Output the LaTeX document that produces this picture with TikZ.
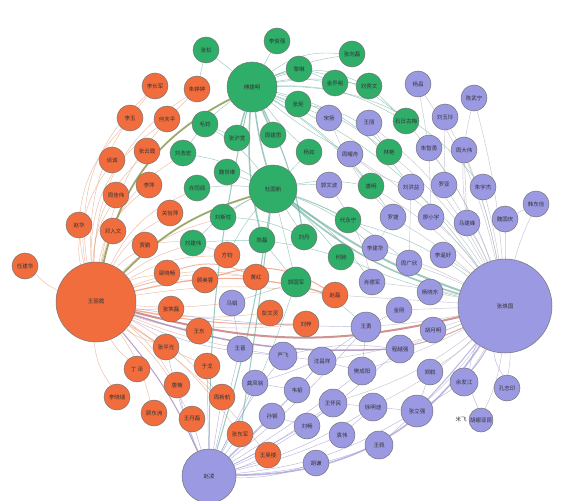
\documentclass[tikz,border=0pt]{standalone}
\usepackage{fontspec}
\newfontfamily\cjk{Noto Sans CJK SC}
\usetikzlibrary{backgrounds}
\definecolor{orgc}{HTML}{F26D3D}
\definecolor{grnc}{HTML}{2EAE68}
\definecolor{prpc}{HTML}{9C99E3}
\definecolor{eorg}{HTML}{E8A080}
\definecolor{egrn}{HTML}{5AA896}
\definecolor{eprp}{HTML}{A3A0D8}
\definecolor{egry}{HTML}{B4B4C4}
\definecolor{olv}{HTML}{8C9A50}
\definecolor{red2}{HTML}{C98080}
\definecolor{mauve}{HTML}{A585B5}
\begin{document}
\begin{tikzpicture}[x=1pt,y=-1pt,
  nd/.style={circle,draw=black!55,line width=0.5pt,inner sep=0pt,text=black!80,font=\cjk\fontsize{5.5}{6}\selectfont},
  orn/.style={nd,fill=orgc,minimum size=#1}, orn/.default=26,
  grn/.style={nd,fill=grnc,minimum size=#1}, grn/.default=26,
  prn/.style={nd,fill=prpc,minimum size=#1}, prn/.default=26,
  eo/.style={draw=eorg,line width=0.45pt,opacity=0.7},
  eg/.style={draw=egrn,line width=0.45pt,opacity=0.6},
  ep/.style={draw=eprp,line width=0.45pt,opacity=0.75},
  ex/.style={draw=egry,line width=0.45pt,opacity=0.75},
  thk/.style={line width=#1}, thk/.default=1.6pt]
\useasboundingbox (0,0) rectangle (564,500);
% ---------- orange ----------
\node[orn=80] (W) at (96,302) {王丽霞};
\node[orn] (o1) at (25,266) {任建华};
\node[orn] (o2) at (79,225) {赵华};
\node[orn] (o3) at (113,231) {邓入文};
\node[orn] (o4) at (145,245) {贾鹏};
\node[orn] (o5) at (167,273) {梁晓畅};
\node[orn] (o6) at (171,309) {张笑磊};
\node[orn] (o7) at (166,347) {张平光};
\node[orn] (o8) at (137,369) {丁\ 泽};
\node[orn] (o9) at (117,397) {李晓瑞};
\node[orn] (o10) at (154,413) {顾东洲};
\node[orn] (o11) at (177,385) {唐楠};
\node[orn] (o12) at (192,419) {王丹磊};
\node[orn] (o13) at (222,397) {周新航};
\node[orn] (o14) at (207,366) {于戈};
\node[orn] (o15) at (199,331) {王东};
\node[orn] (o16) at (205,280) {顾美蓉};
\node[orn] (o17) at (227,255) {方钧};
\node[orn] (o18) at (256,277) {黄红};
\node[orn] (o19) at (170,213) {关怡萍};
\node[orn] (o20) at (149,185) {李萍};
\node[orn] (o21) at (116,195) {周佳伟};
\node[orn] (o22) at (112,160) {谈诚};
\node[orn] (o23) at (130,118) {李玉};
\node[orn] (o24) at (155,86) {李长军};
\node[orn] (o25) at (147,151) {张云霞};
\node[orn] (o26) at (167,119) {何夫平};
\node[orn] (o27) at (197,89) {朱婷婷};
\node[orn] (o28) at (270,313) {彭文灵};
\node[orn] (o29) at (306,324) {刘梓};
\node[orn] (o30) at (335,295) {赵磊};
\node[orn] (o31) at (240,434) {张东军};
\node[orn] (o32) at (268,455) {王昊楼};
% ---------- green ----------
\node[grn=50] (F) at (252,87) {傅建明};
\node[grn=48] (D) at (273,189) {杜国新};
\node[grn] (g1) at (206,50) {张松};
\node[grn] (g2) at (277,41) {李俊强};
\node[grn] (g3) at (352,54) {张向磊};
\node[grn] (g4) at (299,69) {黎琳};
\node[grn] (g5) at (335,83) {金乔裕};
\node[grn] (g6) at (369,86) {刘秀文};
\node[grn] (g7) at (298,104) {张炬};
\node[grn] (g8) at (205,124) {毛钧};
\node[grn] (g9) at (237,138) {张沪宽};
\node[grn] (g10) at (273,135) {周建思};
\node[grn] (g11) at (309,152) {杨如};
\node[grn] (g12) at (183,153) {刘浩宏};
\node[grn] (g13) at (227,172) {魏世维};
\node[grn] (g14) at (197,188) {许同闻};
\node[grn] (g15) at (223,217) {刘斯柱};
\node[grn] (g16) at (262,240) {陈磊};
\node[grn] (g17) at (193,243) {刘建伟};
\node[grn] (g18) at (304,237) {刘丹};
\node[grn] (g19) at (348,220) {代永宁};
\node[grn] (g20) at (341,257) {何驰};
\node[grn=30] (g21) at (296,282) {郭国军};
\node[grn] (g22) at (371,186) {唐明};
\node[grn] (g23) at (389,152) {林艳};
\node[grn] (g24) at (406,121) {石日古梅};
% ---------- purple ----------
\node[prn=94] (Z) at (505,306) {张焕国};
\node[prn=54] (Y) at (209,476) {赵凌};
\node[prn] (p1) at (329,118) {宋扬};
\node[prn] (p2) at (369,123) {王丽};
\node[prn] (p3) at (350,154) {周耀舟};
\node[prn] (p4) at (329,185) {郭文波};
\node[prn] (p5) at (418,84) {杨昌};
\node[prn] (p6) at (474,98) {陈武宁};
\node[prn] (p7) at (445,117) {刘玉玲};
\node[prn] (p8) at (429,148) {朱智勇};
\node[prn] (p9) at (464,150) {周大伟};
\node[prn] (p10) at (411,187) {刘洪益};
\node[prn] (p11) at (444,185) {罗亚};
\node[prn] (p12) at (483,187) {朱宇杰};
\node[prn] (p13) at (536,204) {韩东信};
\node[prn] (p14) at (393,217) {罗捷};
\node[prn] (p15) at (431,217) {廖小宇};
\node[prn] (p16) at (467,223) {马建峰};
\node[prn] (p17) at (505,219) {魏国庆};
\node[prn] (p18) at (375,248) {李建华};
\node[prn] (p19) at (409,263) {周广欣};
\node[prn] (p20) at (443,255) {李遥好};
\node[prn] (p21) at (372,282) {肖德军};
\node[prn] (p22) at (430,292) {杨晓东};
\node[prn] (p23) at (399,310) {金刚};
\node[prn] (p24) at (433,330) {胡月明};
\node[prn=28] (p25) at (400,349) {程越强};
\node[prn=30] (p26) at (366,327) {王勇};
\node[prn] (p27) at (232,303) {马娟};
\node[prn] (p28) at (240,349) {王晋};
\node[prn=28] (p29) at (283,356) {严飞};
\node[prn=28] (p30) at (322,361) {沈昌祥};
\node[prn=28] (p31) at (362,371) {樊成阳};
\node[prn] (p32) at (255,383) {龚凤铭};
\node[prn] (p33) at (297,390) {韦韬};
\node[prn=28] (p34) at (333,403) {王怀民};
\node[prn=28] (p35) at (373,407) {徐明迪};
\node[prn=32] (p36) at (417,411) {张立强};
\node[prn] (p37) at (272,416) {孙钢};
\node[prn] (p38) at (307,426) {刘畅};
\node[prn] (p39) at (342,435) {袁伟};
\node[prn=28] (p40) at (379,445) {王佩};
\node[prn] (p41) at (316,463) {胡谦};
\node[prn] (p42) at (430,372) {郑鹤};
\node[prn=28] (p43) at (464,382) {余发江};
\node[prn] (p44) at (507,388) {孔志印};
\node[prn=24] (p45) at (481,420) {胡娜亚昆};
\node[font=\cjk\fontsize{5.5}{6}\selectfont,text=black!80] (mf) at (461,419) {米飞};
% ---------- edges ----------
\begin{scope}[on background layer]
\fill[white] (0,0) rectangle (564,500);
% W hub
\foreach \t/\b in {o1/-10,o2/-10,o3/-5,o4/-10,o5/-10,o6/5,o7/10,o8/10,o9/15,o10/-10,o11/-10,o12/-10,o13/-10,o14/5,o15/5,o16/-10,o17/-15,o18/-15,o19/-15,o20/-20,o21/-15,o22/-22,o23/-28,o24/-28,o25/-22,o26/-28,o27/-28,o28/8,o29/10,o31/-10,o32/-8,g17/-10,g15/-15,g14/-20,g12/-22,p27/5,p28/5}
  \draw[eo] (W) to[bend right=\b] (\t);
\draw[eo] (W) to[bend left=22] (o24);
\draw[eo] (W) to[bend left=18] (o27);
\draw[eo] (W) to[bend left=12] (o18);
\draw[eo] (W) to[bend left=8] (o30);
\draw[eo,thk=1.2pt,draw=orgc!80] (W) to[bend left=14] (o30);
\draw[eo,thk=1pt,draw=orgc!80] (W) to[bend right=6] (o29);
\draw[eo,thk=1pt] (o5) to[bend left=20] (o18);
\draw[eo,thk=1pt,draw=orgc!80] (o16) to[bend left=25] (o30);
\draw[eo] (o4) to[bend left=15] (o17);
\draw[olv,thk=1.8pt,opacity=0.85] (W) to[bend left=25] (F);
\draw[olv,thk=1.8pt,opacity=0.85] (W) to[bend left=14] (D);
\draw[red2,thk=2pt,opacity=0.85] (W) to[bend right=14] (Z);
\draw[mauve,thk=1.5pt,opacity=0.8] (W) to[bend right=10] (p25);
\draw[mauve,thk=1pt,opacity=0.8] (W) to[bend left=8] (Y);
\draw[ep] (W) to[bend right=4] (p26);
\draw[ep] (W) to[bend right=10] (p29);
% F hub
\foreach \t/\b in {g1/0,g2/0,g3/-20,g4/-5,g5/-10,g6/-10,g7/0,g11/5,g23/-10,g24/-15,g22/-8,g12/10,p1/0,p3/5,g5/-25,g6/-22,g3/-8}
  \draw[eg] (F) to[bend right=\b] (\t);
\draw[eg,thk=1.5pt] (F) to (g9);
\draw[eg,thk=1.5pt] (F) to (g10);
\draw[eg,thk=1.5pt] (F) to[bend right=4] (D);
\draw[eg,thk=1.5pt] (F) to[bend right=8] (g16);
\draw[eg,thk=1.2pt] (F) to[bend left=8] (g18);
\draw[eg] (F) to[bend left=15] (Z);
\draw[eg] (F) to[bend left=25] (p12);
\draw[eg] (F) to[bend left=20] (p10);
\draw[eg] (F) to[bend left=12] (p14);
\draw[eg,thk=1pt] (F) to[bend right=6] (Y);
\draw[eg] (g8) to (g9);
\draw[eg] (g1) to (o27);
% D hub
\foreach \t/\b in {g13/0,g14/5,g15/5,g17/10,g18/0,g19/-5,g20/-5,g22/-10,p4/-5,p18/-10,g12/10,g8/10,o17/5,g21/0,p19/-10,p21/-10,g11/0}
  \draw[eg] (D) to[bend right=\b] (\t);
\draw[eg,thk=2pt] (D) to[bend right=8] (Z);
\draw[eg,thk=1.6pt] (D) to[bend right=12] (Z);
\draw[eg,thk=1pt] (D) to[bend left=4] (Y);
\draw[eg,thk=1pt] (D) to[bend left=1] (o31);
\draw[eg] (g15) to[bend left=10] (g18);
\draw[eg] (g17) to[bend left=10] (g20);
\draw[eg] (g16) to (g21);
\draw[eg] (g21) to[bend left=10] (p26);
\draw[eg] (g21) to (p27);
\draw[eg] (g21) to[bend left=5] (Y);
\draw[eg] (g19) to[bend left=10] (Z);
\draw[eg] (g20) to[bend right=5] (Z);
\draw[eg] (g4) to[bend left=15] (g24);
\draw[eg] (g6) to (g24);
\draw[eg] (g7) to[bend left=20] (g23);
% Z hub
\foreach \t/\b in {p5/10,p6/5,p7/8,p8/8,p9/5,p10/8,p11/5,p12/3,p13/-5,p14/5,p15/5,p16/3,p17/0,p18/5,p19/3,p20/3,p21/3,p22/0,p23/0,p24/0,p25/0,p26/-3,p30/-6,p31/-5,p35/-8,p36/-5,p42/-5,p43/-3,p44/-5,p45/-8,g23/10,g24/10,g22/8,p2/12,p3/10,p34/-10,o30/0}
  \draw[ex] (Z) to[bend right=\b] (\t);
\draw[ep,thk=1pt] (Z) to[bend left=5] (p43);
\draw[ep,thk=1pt] (Z) to[bend left=2] (p36);
\draw[ep] (Z) to[bend right=15] (p44);
\draw[ep] (Z) to[bend right=25] (p45);
\draw[ep,thk=1.6pt] (Y) to[bend right=28] (Z);
\draw[red2,thk=1pt,opacity=0.7] (p25) to[bend right=5] (Z);
% Y hub
\foreach \t/\b in {p28/0,p29/-5,p32/0,p33/0,p34/5,p37/0,p38/5,p39/5,p40/8,p41/10,p36/12,p35/8,p30/3,p31/3,o31/0,o32/5,o12/0,o13/0,o14/0,o11/-5,p26/5,p25/8,o7/-5}
  \draw[ep] (Y) to[bend right=\b] (\t);
% purple cross links
\draw[ep] (p29) to (p30);
\draw[ep] (p30) to (p31);
\draw[ep] (p34) to (p35);
\draw[ep] (p35) to (p36);
\draw[ep] (p31) to (p26);
\draw[ep] (p26) to (p23);
\draw[ep] (p42) to (p36);
\draw[ep] (p43) to (p36);
\draw[ep] (p45) to (mf);
\draw[ep] (p33) to (p30);
\draw[ep] (p38) to (p34);
\draw[ep] (p39) to (p35);
\draw[ep] (p40) to (p36);
\draw[ep] (p28) to (p29);
\draw[ep] (p32) to (p33);
\draw[ep] (p37) to (p38);
\draw[ep] (p27) to (p28);
\draw[ep] (p29) to[bend left=10] (p25);
\draw[ep] (p32) to[bend right=10] (p26);
\draw[ex] (p5) to (p8);
\draw[ex] (p7) to (p11);
\draw[ex] (p6) to[bend right=10] (p16);
\draw[ex] (p9) to (p16);
\draw[ex] (p13) to (p17);
\draw[ex] (p2) to (g23);
\draw[ex] (p1) to[bend right=10] (p14);
\draw[ex] (p4) to[bend left=10] (p21);
\draw[ex] (p3) to[bend right=10] (p10);
\draw[ex] (p8) to (p15);
\draw[ex] (p10) to (p19);
\draw[ex] (p14) to (p18);
\end{scope}
\end{tikzpicture}
\end{document}
